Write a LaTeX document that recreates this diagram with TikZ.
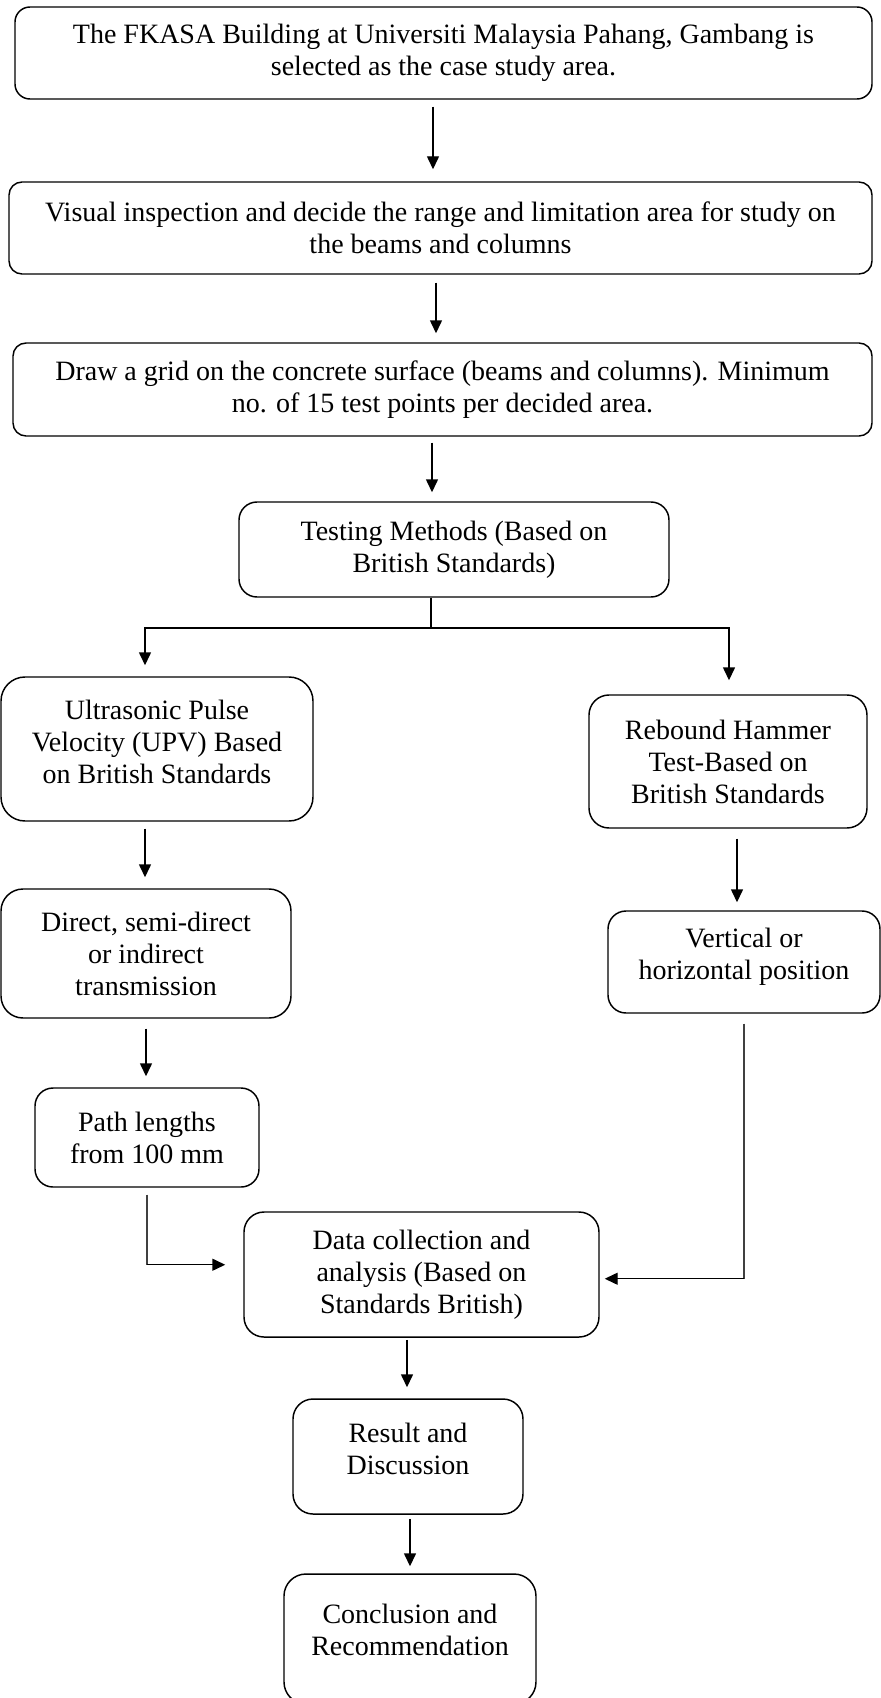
\documentclass[tikz,border=0pt]{standalone}
\usepackage{fontspec}
\setmainfont{Liberation Serif}
\usetikzlibrary{arrows.meta,calc}
\newlength{\pxu}\setlength{\pxu}{0.75pt}
\begin{document}
\begin{tikzpicture}[x=0.75pt,y=-0.75pt,
  box/.style={draw, line width=1.1pt, rounded corners=#1, align=center, inner sep=0pt,
              font=\fontsize{21}{24}\selectfont},
  box/.default=13\pxu,
  txt/.style={align=center, inner sep=0pt, font=\fontsize{21}{24}\selectfont},
  arr/.style={line width=1.1pt, -{Triangle[length=9.75pt,width=9pt]}},
  plain/.style={line width=1.1pt},
  thinline/.style={line width=0.8pt, black!75}]
\useasboundingbox (0,0) rectangle (881,1698);
\fill[white] (0,0) rectangle (881,1698);

% boxes
\node[box=15\pxu, minimum width=857\pxu, minimum height=92\pxu] (b1) at (443.5,53)
  {The FKASA Building at Universiti Malaysia Pahang, Gambang is\\selected as the case study area.};
\node[box, minimum width=863\pxu, minimum height=92\pxu] (b2) at (440.5,228)
  {Visual inspection and decide the range and limitation area for study on\\the beams and columns};
\node[box, minimum width=859\pxu, minimum height=93\pxu] (b3) at (442.5,389.5)
  {Draw a grid on the concrete surface (beams and columns). Minimum\\no. of 15 test points per decided area.};
\node[box=18\pxu, minimum width=430\pxu, minimum height=95\pxu] (b4) at (454,549.5)
  {Testing Methods (Based on\\British Standards)};

\node[box=24\pxu, minimum width=312\pxu, minimum height=144\pxu] (upv) at (157,749) {};
\node[txt] (upvt) at (157,742) {Ultrasonic Pulse\\Velocity (UPV) Based\\on British Standards};

\node[box=20\pxu, minimum width=278\pxu, minimum height=133\pxu] (reb) at (728,761.5)
  {Rebound Hammer\\Test-Based on\\British Standards};

\node[box=22\pxu, minimum width=290\pxu, minimum height=129\pxu] (dir) at (146,953.5)
  {Direct, semi-direct\\or indirect\\transmission};

\node[box=18\pxu, minimum width=272\pxu, minimum height=102\pxu] (ver) at (744,962) {};
\node[txt] (vert) at (744,957) {Vertical or\\horizontal position};

\node[box=18\pxu, minimum width=224\pxu, minimum height=99\pxu] (path) at (147,1137.5)
  {Path lengths\\from 100 mm};

\node[box=20\pxu, minimum width=355\pxu, minimum height=125\pxu] (data) at (421.5,1274.5)
  {Data collection and\\analysis (Based on\\Standards British)};

\node[box=20\pxu, minimum width=230\pxu, minimum height=115\pxu] (res) at (408,1456.5) {};
\node[txt] (rest) at (408,1449) {Result and\\Discussion};

\node[box=22\pxu, minimum width=252\pxu, minimum height=130\pxu] (con) at (410,1639) {};
\node[txt] (cont) at (410,1630) {Conclusion and\\Recommendation};

% connectors
\draw[arr, shorten >=12\pxu] (433,0 |- b1.south) ++(0,7) -- (433,0 |- b2.north);
\draw[arr, shorten >=9\pxu] (436,0 |- b2.south) ++(0,8) -- (436,0 |- b3.north);
\draw[arr, shorten >=9\pxu] (432,0 |- b3.south) ++(0,6) -- (432,0 |- b4.north);

\draw[plain] (431,0 |- b4.south) -- (431,628) coordinate (br);
\draw[arr, shorten >=11\pxu] (br) -| (145,0 |- upv.north);
\draw[arr, shorten >=14\pxu] (br) -| (729,0 |- reb.north);

\draw[arr, shorten >=11\pxu] (145,0 |- upv.south) ++(0,7) -- (145,0 |- dir.north);
\draw[arr, shorten >=8\pxu] (737,0 |- reb.south) ++(0,10) -- (737,0 |- ver.north);
\draw[arr, shorten >=11\pxu] (146,0 |- dir.south) ++(0,10) -- (146,0 |- path.north);

\draw[thinline] (path.south) ++(0,7) -- ++(0,70) coordinate (pc);
\draw[arr, shorten >=18\pxu] (pc) -- (pc -| data.west);

\draw[thinline] (ver.south) ++(0,10) -- ++(0,255) coordinate (vc);
\draw[arr, shorten >=5\pxu] (vc) -- (vc -| data.east);

\draw[arr, shorten >=11\pxu] (407,0 |- data.south) ++(0,2) -- (407,0 |- res.north);
\draw[arr, shorten >=7\pxu] (410,0 |- res.south) ++(0,4) -- (410,0 |- con.north);
\end{tikzpicture}
\end{document}
